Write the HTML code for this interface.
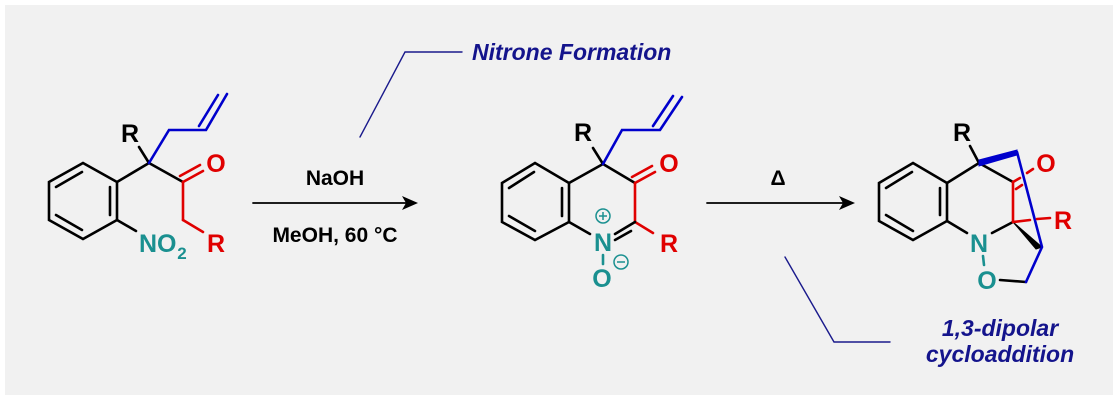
<!DOCTYPE html>
<html><head><style>
html,body{margin:0;padding:0;background:#fff;}
svg{display:block;}
text{font-family:"Liberation Sans",Arial,sans-serif;font-weight:bold;}
</style></head><body>
<svg width="1120" height="403" viewBox="0 0 1120 403" xmlns="http://www.w3.org/2000/svg">
<rect x="5" y="5" width="1108" height="390" fill="#f1f1f1"/>
<g stroke-width="2.6" fill="none" stroke-linecap="round">
<!-- Molecule 1 -->
<g stroke="#000">
<polygon points="83,163 117,182 117,220 83,239 49,220 49,182"/>
<line x1="56" y1="187" x2="82" y2="172"/><line x1="110" y1="187" x2="110" y2="215"/><line x1="56" y1="215" x2="82" y2="230"/>
<line x1="117" y1="182" x2="149" y2="163"/><line x1="149" y1="163" x2="183" y2="182"/>
<line x1="149" y1="163" x2="139" y2="147"/>
<line x1="117" y1="220" x2="136" y2="231"/>
</g>
<g stroke="#0000cc"><polyline points="149,163 169,130 206,130 227,94"/><line x1="199" y1="126" x2="218" y2="95"/></g>
<g stroke="#e00000"><line x1="183" y1="182" x2="183" y2="220"/><line x1="183" y1="220" x2="203" y2="232"/><line x1="183" y1="182" x2="203" y2="171"/><line x1="180" y1="176" x2="200" y2="165"/></g>
<!-- Molecule 2 -->
<g stroke="#000">
<polygon points="535,163 569,183 569,222 535,240 502,222 502,183"/>
<line x1="509" y1="188" x2="534" y2="172"/><line x1="562" y1="188" x2="562" y2="216"/><line x1="509" y1="216" x2="535" y2="231"/>
<line x1="569" y1="183" x2="603" y2="164"/><line x1="603" y1="164" x2="635" y2="183"/>
<line x1="603" y1="164" x2="593" y2="148"/>
<line x1="569" y1="222" x2="590" y2="234"/>
</g>
<g stroke="#0000cc"><polyline points="603,164 622,130 660,130 682,97"/><line x1="653" y1="126" x2="673" y2="96"/></g>
<g stroke="#e00000"><line x1="635" y1="183" x2="635" y2="222"/><line x1="635" y1="222" x2="653" y2="233"/><line x1="635" y1="183" x2="655" y2="172"/><line x1="632" y1="177" x2="652" y2="166"/></g>
<g stroke="#000"><line x1="615" y1="234" x2="635" y2="222"/><line x1="615" y1="240" x2="631" y2="231"/></g>
<line x1="603" y1="255" x2="603" y2="264" stroke="#1a9090"/>
<!-- Molecule 3 -->
<g stroke="#000">
<polygon points="913,163 947,183 947,221 913,240 879,221 879,183"/>
<line x1="886" y1="188" x2="912" y2="172"/><line x1="940" y1="188" x2="940" y2="215"/><line x1="886" y1="215" x2="913" y2="231"/>
<line x1="947" y1="183" x2="979" y2="163"/><line x1="979" y1="163" x2="1013" y2="182"/>
<line x1="979" y1="163" x2="970" y2="146"/>
<line x1="947" y1="221" x2="967" y2="233"/>
<line x1="992" y1="233" x2="1013" y2="222"/>
<line x1="1000" y1="280" x2="1026" y2="282"/>
</g>
<polygon points="979,160 1017,150 1017,155 979,166" fill="#0000cc" stroke="#0000cc" stroke-width="1"/>
<polygon points="1013,222 1042,247 1036,249" fill="#000" stroke="#000" stroke-width="1"/>
<g stroke="#0000cc"><polyline points="1017,152 1042,247 1026,282"/></g>
<g stroke="#e00000"><line x1="1013" y1="182" x2="1013" y2="222"/><line x1="1013" y1="222" x2="1030" y2="220"/><line x1="1037" y1="219" x2="1050" y2="218"/>
<line x1="1013" y1="182" x2="1020" y2="178"/><line x1="1027" y1="173" x2="1033" y2="169"/><line x1="1016" y1="189" x2="1022" y2="185"/></g>
<line x1="983" y1="256" x2="984" y2="265" stroke="#1a9090"/>
<!-- arrows -->
<g stroke="#000" stroke-width="1.8"><line x1="253" y1="203" x2="410" y2="203"/><line x1="707" y1="203" x2="846" y2="203"/></g>
<!-- callout lines -->
<g stroke="#1a1a8c" stroke-width="1.4"><polyline points="360,137 405,52 462,52"/><polyline points="785,257 834,342 890,342"/></g>
</g>
<polygon points="418,203 402,196 406,203 402,210" fill="#000"/>
<polygon points="855,203 839,196 843,203 839,210" fill="#000"/>
<g font-size="25" text-anchor="middle">
<text x="130" y="142" fill="#000">R</text>
<text x="216" y="172" fill="#e00000">O</text>
<text x="216" y="252" fill="#e00000">R</text>
<text x="139" y="252" fill="#1a9090" text-anchor="start">NO</text><text x="182" y="259" fill="#1a9090" font-size="17">2</text>
<text x="583" y="141" fill="#000">R</text>
<text x="669" y="172" fill="#e00000">O</text>
<text x="669" y="252" fill="#e00000">R</text>
<text x="603" y="251" fill="#1a9090">N</text>
<text x="602" y="287" fill="#1a9090">O</text>
<text x="962" y="141" fill="#000">R</text>
<text x="1046" y="172" fill="#e00000">O</text>
<text x="1063" y="229" fill="#e00000">R</text>
<text x="979" y="252" fill="#1a9090">N</text>
<text x="987" y="289" fill="#1a9090">O</text>
</g>
<g stroke="#1a9090" stroke-width="1.5" fill="none"><circle cx="603" cy="216" r="7"/><line x1="599" y1="216" x2="607" y2="216"/><line x1="603" y1="212" x2="603" y2="220"/>
<circle cx="621" cy="262" r="7"/><line x1="617" y1="262" x2="625" y2="262"/></g>
<text x="335" y="185" font-size="21" text-anchor="middle" fill="#000">NaOH</text>
<text x="335" y="242" font-size="21" text-anchor="middle" fill="#000">MeOH, 60 °C</text>
<text x="778" y="185" font-size="21" text-anchor="middle" fill="#000" font-weight="normal">Δ</text>
<g font-style="italic" fill="#14148c" font-size="23">
<text x="472" y="60">Nitrone Formation</text>
<text x="1000" y="336" text-anchor="middle">1,3-dipolar</text>
<text x="1000" y="362" text-anchor="middle">cycloaddition</text>
</g>
</svg>
</body></html>
